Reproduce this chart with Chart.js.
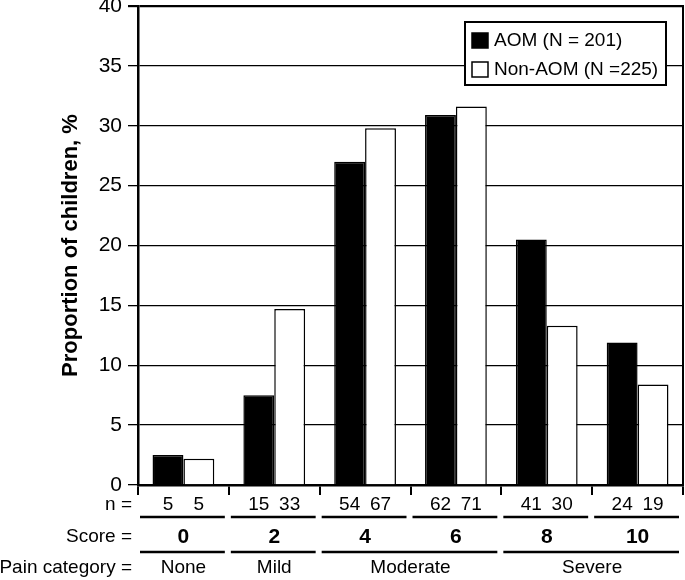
<!DOCTYPE html>
<html>
<head>
<meta charset="utf-8">
<script src="https://cdn.jsdelivr.net/npm/chart.js@4.4.1/dist/chart.umd.min.js"></script>
<style>
  html, body { margin: 0; padding: 0; background: #fff; }
  #wrap { width: 685px; height: 580px; }
</style>
</head>
<body>
<div id="wrap"><canvas id="painChart" width="685" height="580"></canvas></div>
<script>
// Данные графика
const scores = ['0', '2', '4', '6', '8', '10'];
const aomValues = [2.5, 7.5, 27.0, 30.9, 20.5, 11.9];
const nonAomValues = [2.2, 14.7, 29.8, 31.6, 13.3, 8.4];
const aomCounts = [5, 15, 54, 62, 41, 24];
const nonAomCounts = [5, 33, 67, 71, 30, 19];
const painLabels = ['None', 'Mild', 'Moderate', 'Severe'];
const painSpans = [[0, 0], [1, 1], [2, 3], [4, 5]];
const seriesLabels = ['AOM (N = 201)', 'Non-AOM (N =225)'];

const FONT = '"Liberation Sans", Arial, Helvetica, sans-serif';

/**
 * Таблица под осью X: n =, Score =, Pain category =
 */
const tablePlugin = {
  id: 'bottomTable',
  afterDraw(chart) {
    const ctx = chart.ctx;
    const x = chart.scales.x;
    const area = chart.chartArea;
    const step = (x.right - x.left) / scores.length;
    const left = i => x.left + step * i;

    ctx.save();
    ctx.fillStyle = '#000';
    ctx.strokeStyle = '#000';
    ctx.textBaseline = 'middle';

    // правая рамка
    ctx.lineWidth = 2;
    ctx.beginPath();
    ctx.moveTo(area.right, area.top - 1);
    ctx.lineTo(area.right, area.bottom);
    ctx.stroke();

    // подписи слева
    ctx.textAlign = 'right';
    ctx.font = '19px ' + FONT;
    ctx.fillText('n =', 132, 505);
    ctx.fillText('Score =', 132, 537);
    ctx.fillText('Pain category =', 132, 568);

    const m0 = chart.getDatasetMeta(0);
    const m1 = chart.getDatasetMeta(1);
    ctx.textAlign = 'center';
    ctx.lineWidth = 2.5;
    scores.forEach((s, i) => {
      ctx.font = '19px ' + FONT;
      ctx.fillText(String(aomCounts[i]), m0.data[i].x, 505);
      ctx.fillText(String(nonAomCounts[i]), m1.data[i].x, 505);
      ctx.beginPath();
      ctx.moveTo(left(i) + 2, 517);
      ctx.lineTo(left(i + 1) - 4, 517);
      ctx.stroke();

      ctx.font = 'bold 21px ' + FONT;
      ctx.fillText(s, x.getPixelForValue(i), 537);
    });

    ctx.font = '19px ' + FONT;
    painLabels.forEach((label, k) => {
      const [a, b] = painSpans[k];
      const x0 = left(a), x1 = left(b + 1);
      ctx.beginPath();
      ctx.moveTo(x0 + 2, 552);
      ctx.lineTo(x1 - 4, 552);
      ctx.stroke();
      ctx.fillText(label, (x0 + x1) / 2, 568);
    });

    // легенда
    const box = { x: 465, y: 22, w: 201, h: 63 };
    ctx.fillStyle = '#fff';
    ctx.fillRect(box.x, box.y, box.w, box.h);
    ctx.lineWidth = 2;
    ctx.strokeRect(box.x, box.y, box.w, box.h);
    ctx.textAlign = 'left';
    chart.data.datasets.forEach((ds, i) => {
      const cy = 41 + i * 29;
      ctx.fillStyle = ds.backgroundColor;
      ctx.fillRect(472, cy - 8, 16, 15);
      ctx.lineWidth = 1.5;
      ctx.strokeRect(472, cy - 8, 16, 15);
      ctx.fillStyle = '#000';
      ctx.font = '19px ' + FONT;
      ctx.fillText(ds.label, 494, cy);
    });
    ctx.restore();
  }
};

function renderChart() {
  return new Chart(document.getElementById('painChart').getContext('2d'), {
    type: 'bar',
    data: {
      labels: scores,
      datasets: [
        {
          label: seriesLabels[0],
          data: aomValues,
          backgroundColor: '#000',
          borderColor: '#000',
          borderWidth: 1.5,
          categoryPercentage: 0.68,
          barPercentage: 1.0
        },
        {
          label: seriesLabels[1],
          data: nonAomValues,
          backgroundColor: '#fff',
          borderColor: '#000',
          borderWidth: 1.5,
          categoryPercentage: 0.68,
          barPercentage: 1.0
        }
      ]
    },
    options: {
      responsive: false,
      animation: false,
      devicePixelRatio: 1,
      layout: { padding: { left: 0, right: 2, top: 6, bottom: 0 } },
      plugins: {
        legend: { display: false },
        tooltip: { enabled: false }
      },
      scales: {
        x: {
          grid: {
            offset: true,
            drawOnChartArea: false,
            color: '#000',
            lineWidth: 2,
            tickLength: 10
          },
          border: { color: '#000', width: 2.5 },
          ticks: { display: false },
          afterFit(scale) { scale.height = 95; }
        },
        y: {
          min: 0,
          max: 40,
          ticks: {
            stepSize: 5,
            color: '#000',
            padding: 6,
            font: { family: FONT, size: 21 }
          },
          grid: {
            color: '#000',
            lineWidth: c => (c.tick && c.tick.value === 40 ? 2.2 : 1.3),
            tickLength: 10
          },
          border: { color: '#000', width: 2.5 },
          title: {
            display: true,
            text: 'Proportion of children, %',
            color: '#000',
            font: { family: FONT, size: 22, weight: 'bold' },
            padding: { top: 58, bottom: 0 }
          },
          afterFit(scale) {
            scale.width = 138;
            scale.paddingTop = 0;
            scale.paddingBottom = 0;
          }
        }
      }
    },
    plugins: [tablePlugin]
  });
}

document.addEventListener('DOMContentLoaded', renderChart);
</script>
</body>
</html>
